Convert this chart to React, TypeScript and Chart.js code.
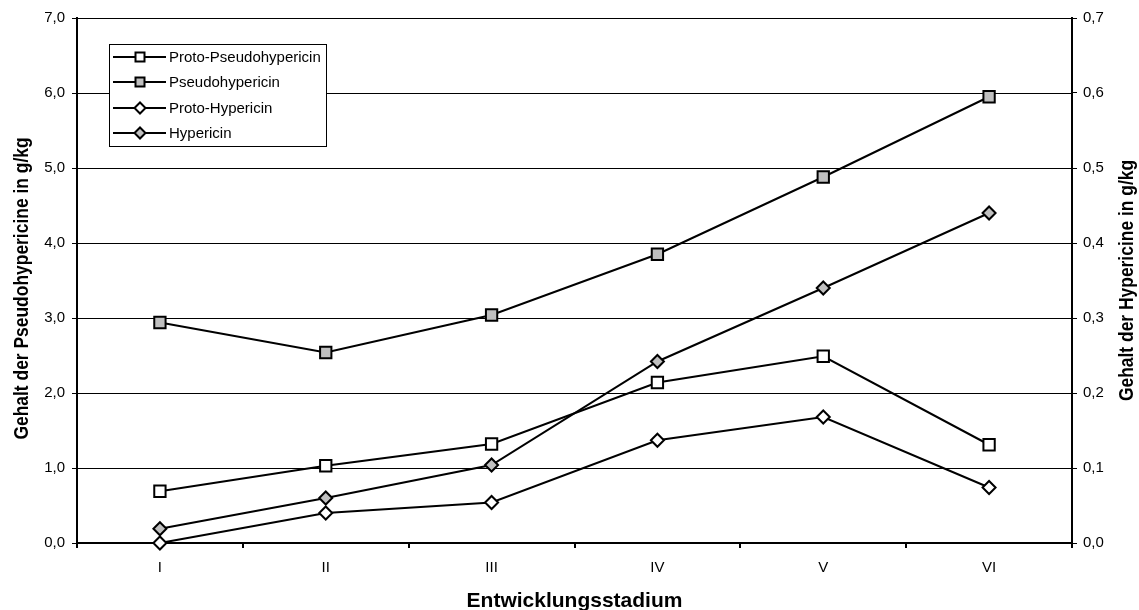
import React, { useEffect, useRef } from 'react';
import { Chart, registerables } from 'chart.js';

Chart.register(...registerables);

// Development stages on the category axis
const stages = ['I', 'II', 'III', 'IV', 'V', 'VI'];

// Pseudohypericine contents (left axis, g/kg)
const protoPseudohypericin = [0.69, 1.03, 1.32, 2.14, 2.49, 1.31];
const pseudohypericin = [2.94, 2.54, 3.04, 3.85, 4.88, 5.95];

// Hypericine contents (right axis, g/kg)
const protoHypericin = [0.0, 0.04, 0.054, 0.137, 0.168, 0.074];
const hypericin = [0.019, 0.06, 0.104, 0.242, 0.34, 0.44];

// Tick labels with decimal comma
const leftTickLabels = ['0,0', '1,0', '2,0', '3,0', '4,0', '5,0', '6,0', '7,0'];
const rightTickLabels = ['0,0', '0,1', '0,2', '0,3', '0,4', '0,5', '0,6', '0,7'];

// Axis titles
const xTitle = 'Entwicklungsstadium';
const leftTitle = 'Gehalt der Pseudohypericine in g/kg';
const rightTitle = 'Gehalt der Hypericine in g/kg';

const W = 1139;
const H = 610;
const PLOT_LEFT = 77;
const PLOT_RIGHT = 1072;
const PLOT_TOP = 18;
const PLOT_BOTTOM = 543;

const FONT = '"Liberation Sans", Arial, sans-serif';
const GREY = '#c0c0c0';

type Series = {
  label: string;
  data: number[];
  axis: 'y' | 'y2';
  fill: string;
  shape: 'rect' | 'rectRot';
};

const series: Series[] = [
  { label: 'Proto-Pseudohypericin', data: protoPseudohypericin, axis: 'y', fill: '#ffffff', shape: 'rect' },
  { label: 'Pseudohypericin', data: pseudohypericin, axis: 'y', fill: GREY, shape: 'rect' },
  { label: 'Proto-Hypericin', data: protoHypericin, axis: 'y2', fill: '#ffffff', shape: 'rectRot' },
  { label: 'Hypericin', data: hypericin, axis: 'y2', fill: GREY, shape: 'rectRot' },
];

// Vertical titles are drawn condensed along their length
const V_TITLE_SQUASH = 0.83;

// Axis titles, the boxed legend and the inner half of the right-axis ticks
const decorations = {
  id: 'decorations',
  afterDraw(chart: any) {
    const ctx = chart.ctx as CanvasRenderingContext2D;
    const area = chart.chartArea;
    ctx.save();
    ctx.fillStyle = '#000';

    // right axis ticks cross the axis line
    const y2 = chart.scales.y2;
    ctx.strokeStyle = '#000';
    ctx.lineWidth = 1;
    y2.ticks.forEach((t: any) => {
      const py = Math.round(y2.getPixelForValue(t.value)) + 0.5;
      ctx.beginPath();
      ctx.moveTo(area.right - 5, py);
      ctx.lineTo(area.right, py);
      ctx.stroke();
    });

    // axis titles
    ctx.font = `bold 21px ${FONT}`;
    ctx.textAlign = 'center';
    ctx.textBaseline = 'alphabetic';
    const cx = (area.left + area.right) / 2;
    const cy = (area.top + area.bottom) / 2;
    ctx.fillText(xTitle, cx, 607);

    ctx.save();
    ctx.translate(28, cy + 8);
    ctx.rotate(-Math.PI / 2);
    ctx.scale(V_TITLE_SQUASH, 1);
    ctx.fillText(leftTitle, 0, 0);
    ctx.restore();

    ctx.save();
    ctx.translate(1133, cy);
    ctx.rotate(-Math.PI / 2);
    ctx.scale(V_TITLE_SQUASH, 1);
    ctx.fillText(rightTitle, 0, 0);
    ctx.restore();

    // legend
    ctx.font = `15px ${FONT}`;
    const textX = 169;
    const maxText = Math.max(...series.map((s) => ctx.measureText(s.label).width));
    const boxX = 109.5;
    const boxY = 44.5;
    const boxW = Math.round(textX + maxText + 6 - boxX);
    const boxH = 102;
    ctx.fillStyle = '#fff';
    ctx.fillRect(boxX, boxY, boxW, boxH);
    ctx.strokeStyle = '#000';
    ctx.lineWidth = 1;
    ctx.strokeRect(boxX, boxY, boxW, boxH);

    const rows = [57, 82, 108, 133];
    series.forEach((s, i) => {
      const ry = rows[i];
      ctx.strokeStyle = '#000';
      ctx.lineWidth = 2;
      ctx.beginPath();
      ctx.moveTo(113, ry);
      ctx.lineTo(166, ry);
      ctx.stroke();
      ctx.beginPath();
      if (s.shape === 'rect') {
        ctx.rect(135.5, ry - 4.5, 9, 9);
      } else {
        ctx.moveTo(140 - 5.5, ry);
        ctx.lineTo(140, ry - 5.5);
        ctx.lineTo(140 + 5.5, ry);
        ctx.lineTo(140, ry + 5.5);
        ctx.closePath();
      }
      ctx.fillStyle = s.fill;
      ctx.fill();
      ctx.stroke();
      ctx.fillStyle = '#000';
      ctx.textAlign = 'left';
      ctx.textBaseline = 'middle';
      ctx.fillText(s.label, textX, ry + 1);
    });
    ctx.restore();
  },
};

export default function App() {
  const canvasRef = useRef<HTMLCanvasElement | null>(null);

  useEffect(() => {
    document.body.style.margin = '0';
    const canvas = canvasRef.current;
    if (!canvas) return;

    const tickFont = { family: FONT, size: 15 };

    const chart = new Chart(canvas, {
      type: 'line',
      data: {
        labels: stages,
        datasets: series.map((s) => ({
          label: s.label,
          data: s.data,
          yAxisID: s.axis,
          borderColor: '#000',
          borderWidth: 2,
          backgroundColor: s.fill,
          pointBackgroundColor: s.fill,
          pointBorderColor: '#000',
          pointBorderWidth: 2,
          pointStyle: s.shape,
          pointRadius: s.shape === 'rect' ? 8 : 6.5,
          pointHoverRadius: s.shape === 'rect' ? 8 : 6.5,
          tension: 0,
          fill: false,
          clip: false as any,
        })),
      },
      options: {
        responsive: false,
        animation: false,
        devicePixelRatio: 1,
        events: [],
        layout: { padding: { top: PLOT_TOP, left: 0, right: 0, bottom: 0 } },
        plugins: {
          legend: { display: false },
          tooltip: { enabled: false },
          title: { display: false },
        },
        scales: {
          x: {
            type: 'category',
            offset: true,
            grid: {
              offset: true,
              drawOnChartArea: false,
              color: '#000',
              lineWidth: 2,
              tickLength: 5,
            },
            border: { color: '#000', width: 2 },
            ticks: { color: '#000', font: tickFont, padding: 11, maxRotation: 0, autoSkip: false },
            afterFit: (s: any) => {
              s.height = H - PLOT_BOTTOM;
            },
          },
          y: {
            position: 'left',
            min: 0,
            max: 7,
            ticks: {
              stepSize: 1,
              color: '#000',
              font: tickFont,
              padding: 7,
              callback: (_v: any, i: number) => leftTickLabels[i],
            },
            grid: { color: '#000', lineWidth: 1, tickLength: 5 },
            border: { color: '#000', width: 2 },
            afterFit: (s: any) => {
              s.width = PLOT_LEFT;
            },
          },
          y2: {
            position: 'right',
            min: 0,
            max: 0.7,
            ticks: {
              stepSize: 0.1,
              color: '#000',
              font: tickFont,
              padding: 6,
              callback: (_v: any, i: number) => rightTickLabels[i],
            },
            grid: { drawOnChartArea: false, color: '#000', lineWidth: 1, tickLength: 5 },
            border: { color: '#000', width: 2 },
            afterFit: (s: any) => {
              s.width = W - PLOT_RIGHT;
            },
          },
        },
      },
      plugins: [decorations],
    });

    return () => chart.destroy();
  }, []);

  return (
    <div style={{ position: 'absolute', left: 0, top: 0, width: W, height: H, background: '#fff' }}>
      <canvas ref={canvasRef} width={W} height={H} style={{ display: 'block' }} />
    </div>
  );
}
